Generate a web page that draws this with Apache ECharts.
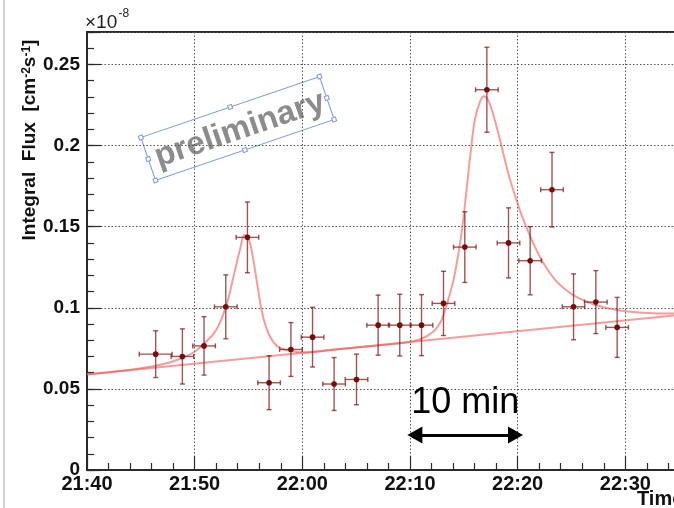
<!DOCTYPE html>
<html>
<head>
<meta charset="utf-8">
<script src="https://cdn.jsdelivr.net/npm/echarts@6/dist/echarts.min.js"></script>
<style>
  html, body { margin: 0; padding: 0; background: #fff; }
  #chart { width: 674px; height: 508px; }
</style>
</head>
<body>
<div id="chart"></div>
<script>
// Time is counted in minutes after 21:40 UT; flux in units of 1e-8 cm^-2 s^-1.
const startClock = [21, 40];

// Light-curve bins
const binMinutes   = [6.38, 8.86, 10.87, 12.89, 14.90, 16.91, 18.94, 20.95, 22.95, 25.03, 27.04,
                      29.05, 31.07, 33.11, 35.09, 37.14, 39.15, 41.16, 43.19, 45.19, 47.26, 49.24];
const binHalfWidth = [1.52, 1.05, 1.05, 1.05, 1.05, 1.05, 1.05, 1.05, 1.05, 1.05, 1.05,
                      1.05, 1.05, 1.05, 1.05, 1.05, 1.05, 1.05, 1.05, 1.05, 1.05, 1.05];
const flux         = [0.0714, 0.0700, 0.0765, 0.1006, 0.1434, 0.0538, 0.0743, 0.0819, 0.0530, 0.0558, 0.0893,
                      0.0893, 0.0893, 0.1027, 0.1374, 0.2344, 0.1400, 0.1290, 0.1728, 0.1006, 0.1035, 0.0879];
const fluxErr      = [0.0144, 0.0170, 0.0180, 0.0197, 0.0218, 0.0166, 0.0166, 0.0184, 0.0163, 0.0156, 0.0185,
                      0.0190, 0.0188, 0.0198, 0.0218, 0.0262, 0.0216, 0.0210, 0.0230, 0.0203, 0.0194, 0.0185];

// Fitted model: linear baseline plus two flares, sampled along the curve
const fitMinutes = [0, 2, 4, 5.8, 7.5, 8.9, 10.0, 10.9, 12.0, 12.9, 13.6, 14.2, 14.65, 15.05, 15.4, 15.9,
                    16.35, 17.0, 17.75, 18.8, 20.1, 23, 27, 29, 30.9, 32.15, 32.93, 33.54, 34.17, 34.78,
                    35.25, 35.62, 36.02, 36.49, 36.86, 37.26, 37.88, 38.65, 39.27, 40.2, 40.8, 41.45, 42.4,
                    43.5, 44.5, 45.5, 46.5, 47.5, 48.5, 49.5, 51, 52.5, 54.5];
const fitFlux    = [0.0590, 0.0603, 0.0618, 0.0636, 0.0660, 0.0692, 0.0729, 0.0780, 0.0863, 0.1006, 0.1190,
                    0.1356, 0.1448, 0.1417, 0.1314, 0.1109, 0.0945, 0.0821, 0.0760, 0.0735, 0.0724, 0.0743,
                    0.0768, 0.0781, 0.0805, 0.0852, 0.0924, 0.1047, 0.1212, 0.1458, 0.1725, 0.1951, 0.2157,
                    0.2269, 0.2304, 0.2280, 0.2157, 0.1955, 0.1795, 0.1602, 0.1499, 0.1397, 0.1274,
                    0.1170, 0.1110, 0.1065, 0.1035, 0.1012, 0.0995, 0.0983, 0.0972, 0.0967, 0.0964];

// Baseline component alone (straight line)
const baseMinutes = [0, 54.5];
const baseFlux    = [0.0588, 0.0952];

// Scale annotation: a 10-minute span
const spanMinutes = [30.45, 39.8];
const spanLevel   = 0.0215;
const spanText    = '10 min';

const FONT = '"Liberation Sans", Arial, sans-serif';
const AXIS_COLOR = '#2a2a2a';
const GRID_COLOR = '#555';

function clockLabel(m) {
  const total = startClock[0] * 60 + startClock[1] + Math.round(m);
  const h = Math.floor(total / 60) % 24;
  const mm = total % 60;
  return h + ':' + String(mm).padStart(2, '0');
}

const binData = binMinutes.map((t, i) => [t, flux[i], binHalfWidth[i], fluxErr[i]]);
const fitData = fitMinutes.map((t, i) => [t, fitFlux[i]]);
const baseData = baseMinutes.map((t, i) => [t, baseFlux[i]]);

// Data points with horizontal (bin width) and vertical (statistical) error bars
function renderErrorBar(params, api) {
  const t = api.value(0), v = api.value(1), ex = api.value(2), ey = api.value(3);
  const c = api.coord([t, v]);
  const l = api.coord([t - ex, v]);
  const r = api.coord([t + ex, v]);
  const hi = api.coord([t, v + ey]);
  const lo = api.coord([t, v - ey]);
  const cap = 2.5;
  const barStyle = { stroke: 'rgba(125, 20, 20, 0.72)', lineWidth: 1.4 };
  const seg = (x1, y1, x2, y2) => ({ type: 'line', shape: { x1, y1, x2, y2 }, style: barStyle });
  return {
    type: 'group',
    children: [
      seg(l[0], c[1], r[0], c[1]),
      seg(c[0], hi[1], c[0], lo[1]),
      seg(l[0], c[1] - cap, l[0], c[1] + cap),
      seg(r[0], c[1] - cap, r[0], c[1] + cap),
      seg(c[0] - cap, hi[1], c[0] + cap, hi[1]),
      seg(c[0] - cap, lo[1], c[0] + cap, lo[1]),
      { type: 'circle', shape: { cx: c[0], cy: c[1], r: 2.8 }, style: { fill: '#7a0a0a' } }
    ]
  };
}

// "preliminary" stamp with its selection frame and handles
const stampW = 188.7, stampH = 45.4;
const handlePts = [
  [-stampW / 2, -stampH / 2], [0, -stampH / 2], [stampW / 2, -stampH / 2], [stampW / 2, 0],
  [stampW / 2, stampH / 2], [0, stampH / 2], [-stampW / 2, stampH / 2], [-stampW / 2, 0]
];
const stamp = {
  type: 'group', x: 237.5, y: 128.5, rotation: 18.85 * Math.PI / 180, z: 50,
  children: [
    { type: 'rect', shape: { x: -stampW / 2, y: -stampH / 2, width: stampW, height: stampH },
      style: { fill: 'none', stroke: '#7f98d4', lineWidth: 1 } },
    { type: 'text', x: 2, y: 2,
      style: { text: 'preliminary', font: 'bold 33px ' + FONT, fill: '#8c8c8c', align: 'center', verticalAlign: 'middle' } }
  ].concat(handlePts.map(p => ({
    type: 'rect', shape: { x: p[0] - 2, y: p[1] - 2, width: 4, height: 4 },
    style: { fill: '#fff', stroke: '#7f98d4', lineWidth: 1 }
  })))
};

const chart = echarts.init(document.getElementById('chart'), null, { renderer: 'canvas' });

chart.setOption({
  animation: false,
  backgroundColor: '#fff',
  textStyle: { fontFamily: FONT },
  grid: {
    left: 87, top: 32, right: -59, bottom: 38,
    outerBoundsMode: 'none', containLabel: false,
    show: true, borderColor: AXIS_COLOR, borderWidth: 2, backgroundColor: 'transparent'
  },
  xAxis: {
    type: 'value', min: 0, max: 60, interval: 10,
    axisLine: { show: true, onZero: false, lineStyle: { color: AXIS_COLOR, width: 2 } },
    axisTick: { show: true, inside: true, length: 14, lineStyle: { color: AXIS_COLOR, width: 1.2 } },
    minorTick: { show: true, splitNumber: 5, length: 7, lineStyle: { color: AXIS_COLOR, width: 1.2 } },
    axisLabel: { formatter: clockLabel, fontSize: 20, fontWeight: 'bold', color: '#111', margin: 4 },
    splitLine: { show: true, lineStyle: { color: GRID_COLOR, width: 1, type: [1.5, 2] } }
  },
  yAxis: [
    {
      type: 'value', min: 0, max: 0.27, interval: 0.05, position: 'left',
      axisLine: { show: true, onZero: false, lineStyle: { color: AXIS_COLOR, width: 2 } },
      axisTick: { show: true, inside: true, length: 14, lineStyle: { color: AXIS_COLOR, width: 1.2 } },
      axisLabel: {
        fontSize: 19, fontWeight: 'bold', color: '#111', margin: 7,
        formatter: v => (Math.abs(v / 0.05 - Math.round(v / 0.05)) < 1e-6 ? String(+v.toFixed(2)) : '')
      },
      splitLine: { show: true, lineStyle: { color: GRID_COLOR, width: 1, type: [1.5, 2] } }
    },
    {
      // fine ticks every 0.01
      type: 'value', min: 0, max: 0.27, interval: 0.01, position: 'left', offset: 0,
      axisLine: { show: false },
      axisTick: { show: true, inside: true, length: 7, lineStyle: { color: AXIS_COLOR, width: 1.2 } },
      axisLabel: { show: false },
      splitLine: { show: false }
    }
  ],
  series: [
    {
      name: 'baseline', type: 'line', data: baseData, showSymbol: false, z: 3,
      lineStyle: { color: 'rgba(240, 90, 90, 0.6)', width: 2 },
      markLine: {
        silent: true, symbol: ['triangle', 'triangle'], symbolSize: [17, 15],
        lineStyle: { color: '#000', width: 3, type: 'solid' },
        label: { show: true, position: 'middle', formatter: spanText, fontSize: 36, color: '#000', distance: 14, fontFamily: FONT },
        data: [[{ coord: [spanMinutes[0], spanLevel] }, { coord: [spanMinutes[1], spanLevel] }]]
      }
    },
    {
      name: 'fit', type: 'line', data: fitData, showSymbol: false, smooth: 0.4, z: 3,
      lineStyle: { color: 'rgba(240, 90, 90, 0.6)', width: 2 }
    },
    {
      name: 'flux', type: 'custom', data: binData, renderItem: renderErrorBar, z: 5,
      encode: { x: 0, y: 1 }
    }
  ],
  graphic: [
    { type: 'rect', shape: { x: 3, y: 0, width: 2, height: 508 }, style: { fill: '#d4d4d4' } },
    { type: 'text', x: 85, y: 23, style: { text: '\u00d710', font: '19px ' + FONT, fill: '#222', align: 'left', verticalAlign: 'middle' } },
    { type: 'text', x: 118.5, y: 14, style: { text: '-8', font: '12px ' + FONT, fill: '#222', align: 'left', verticalAlign: 'middle' } },
    {
      type: 'text', x: 30, y: 140, rotation: Math.PI / 2,
      style: {
        text: '{b|Integral  Flux  [cm}{s|-2}{b|s}{s|-1}{b|]}',
        align: 'center', verticalAlign: 'middle', fill: '#111',
        rich: {
          b: { font: 'bold 19px ' + FONT, fill: '#111', verticalAlign: 'bottom' },
          s: { font: 'bold 12px ' + FONT, fill: '#111', verticalAlign: 'top' }
        }
      }
    },
    { type: 'text', x: 637, y: 499, style: { text: 'Time', font: 'bold 20px ' + FONT, fill: '#111', align: 'left', verticalAlign: 'middle' } },
    stamp
  ]
});
</script>
</body>
</html>
